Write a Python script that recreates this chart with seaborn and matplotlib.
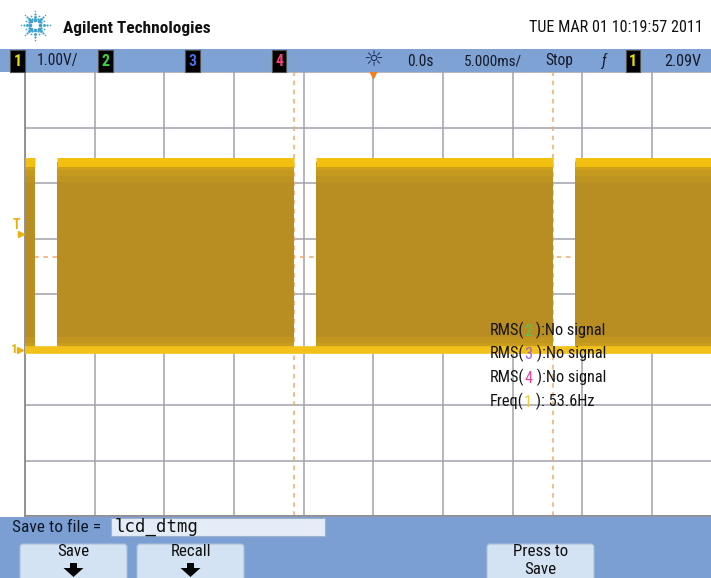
import numpy as np
import pandas as pd
import matplotlib
matplotlib.use("Agg")
import matplotlib.pyplot as plt
import seaborn as sns
from matplotlib import transforms
from matplotlib.patches import Rectangle, FancyBboxPatch, Polygon

ms_per_div = 5.0
volts_per_div = 1.0
t_range = [-25.0, 24.23]          # visible time window (ms)
v_range = [-3.0, 5.0]             # screen voltage window (V)
pulse_start = [-25.0, -22.70, -4.12, 14.47]
pulse_end = [-24.28, -5.69, 12.89, 24.23]
level_high = 3.37
level_low = 0.0
cursor_times = [-5.69, 12.89]
cursor_level = 1.66
trigger_level = 2.09
trigger_time = 0.0

meas_prefix = ["RMS(", "RMS(", "RMS(", "Freq("]
meas_channel = ["2", "3", "4", "1"]
meas_suffix = [" ):No signal", " ):No signal", " ):No signal", " ): 53.6Hz"]

header_title = "Agilent Technologies"
header_date = "TUE MAR 01 10:19:57 2011"
status_labels = ["1.00V/", "0.0s", "5.000ms/", "Stop", "ƒ", "2.09V"]
channel_boxes = ["1", "2", "3", "4", "1"]
save_label = "Save to file ="
file_name = "lcd_dtmg"
softkeys = ["Save", "Recall", "Press to\nSave"]

# ---------------- style ----------------
sns.set_theme(style="white")
NARROW = ["Liberation Sans Narrow", "Roboto Condensed", "Open Sans Condensed",
          "Liberation Sans", "DejaVu Sans"]
plt.rcParams["font.family"] = NARROW

W, H = 711, 578
fig = plt.figure(figsize=(W / 100, H / 100), dpi=100, facecolor="white")

# ---------------- graticule / waveform ----------------
ax = fig.add_axes([25 / W, (H - 516) / H, 686 / W, 444 / H], zorder=2)
ax.set_facecolor("white")
ax.set_xlim(t_range)
ax.set_ylim(v_range)
ax.set_xticks(np.arange(t_range[0], t_range[1], ms_per_div))
ax.set_yticks(np.arange(v_range[0], v_range[1] + 0.5, volts_per_div))
ax.tick_params(length=0, labelbottom=False, labelleft=False)
ax.grid(True, color="#A2A2AC", lw=1.1)
ax.set_axisbelow(True)
for side in ["top", "right"]:
    ax.spines[side].set_visible(False)
for side in ["left", "bottom"]:
    ax.spines[side].set_color("#8A8A94")
    ax.spines[side].set_linewidth(1.3)

cursor_style = dict(color="#F2A86A", lw=1.1, ls=(0, (3, 3)), zorder=1)
for t in cursor_times:
    ax.axvline(t, **cursor_style)
ax.axhline(cursor_level, **cursor_style)

gold = "#B88E22"
mid = "#DAAA18"
bright = "#F4C010"
for s, e in zip(pulse_start, pulse_end):
    ax.fill_between([s, e], level_low, level_high, color=gold, lw=0, zorder=3)
    for lo, hi, al in [(0.05, 0.14, 0.65), (0.14, 0.24, 0.4), (0.24, 0.36, 0.2)]:
        ax.fill_between([s, e], level_high - hi, level_high - lo, color=mid,
                        lw=0, alpha=al, zorder=3.1)
    for lo, hi, al in [(0.05, 0.12, 0.55), (0.12, 0.22, 0.3)]:
        ax.fill_between([s, e], level_low + lo, level_low + hi, color=mid,
                        lw=0, alpha=al, zorder=3.1)

high_df = pd.DataFrame({
    "t": pulse_start + pulse_end,
    "v": [level_high] * (2 * len(pulse_start)),
    "pulse": list(range(len(pulse_start))) * 2,
})
sns.lineplot(data=high_df, x="t", y="v", units="pulse", estimator=None,
             color=bright, lw=6.5, ax=ax, zorder=4, legend=False,
             solid_capstyle="butt")
low_df = pd.DataFrame({"t": t_range, "v": [level_low] * 2})
sns.lineplot(data=low_df, x="t", y="v", estimator=None, color="#F2C21A",
             lw=5.5, ax=ax, zorder=4, legend=False, solid_capstyle="butt")
ax.set_xlabel("")
ax.set_ylabel("")

# trigger position marker
ax.plot([trigger_time], [v_range[1]], marker="v", color="#F08020", ms=8,
        clip_on=False, zorder=1)

# ---------------- overlay in pixel coordinates ----------------
ov = fig.add_axes([0, 0, 1, 1], zorder=5)
ov.set_xlim(0, W)
ov.set_ylim(H, 0)
ov.axis("off")
ov.patch.set_alpha(0)

# logo (Agilent spark)
cx, cy = 35, 25
logo_c = "#3FA0CE"
a8 = np.deg2rad(np.arange(0, 360, 45))
a8b = a8 + np.deg2rad(22.5)
for r, sz in [(5.0, 7), (8.5, 4.5), (11.5, 2.5), (14.5, 1.2)]:
    ov.scatter(cx + r * np.cos(a8), cy + r * np.sin(a8), s=sz, color=logo_c, lw=0)
for r, sz in [(7.0, 3), (10.0, 1.5)]:
    ov.scatter(cx + r * np.cos(a8b), cy + r * np.sin(a8b), s=sz, color=logo_c, lw=0)

ov.text(63, 28, header_title, fontsize=12.4, fontweight="bold", va="center",
        color="#111111", family=NARROW)
ov.text(703, 28, header_date, fontsize=11.6, ha="right", va="center",
        color="#111111", family=NARROW)

# status bar
bar_c = "#7FA2D4"
ov.add_patch(Rectangle((0, 49), W, 23, fc=bar_c, ec="none"))
box_x = [17.5, 105.5, 192.5, 279, 633]
box_c = ["#E8E000", "#40D040", "#4A6AE8", "#F0407A", "#E8E000"]
for x, d, c in zip(box_x, channel_boxes, box_c):
    ov.text(x, 61, d, fontsize=11.5, fontweight="bold", color=c, ha="center",
            va="center", family=NARROW,
            bbox=dict(boxstyle="square,pad=0.2", fc="black", ec="#505050", lw=0.8))
status_x = [37, 407, 464, 545, 601, 701]
status_ha = ["left", "left", "left", "left", "left", "right"]
status_fs = [11.2, 11.2, 11.0, 11.2, 11.2, 11.6]
for x, s, ha, fs in zip(status_x, status_labels, status_ha, status_fs):
    ov.text(x, 61, s, fontsize=fs, ha=ha, va="center", color="#151a2a",
            family=NARROW, style="italic" if s == "ƒ" else "normal")
ov.text(373, 60, "☼", fontsize=16, ha="center", va="center", color="#1c2a5a",
        family=["DejaVu Sans"])

# channel / trigger markers on the left
tr = transforms.blended_transform_factory(ov.transData, ax.transData)
ov.text(16, trigger_level + 0.02, "T", transform=tr, color="#E8B010",
        fontsize=10, fontweight="bold", ha="center", va="bottom", family=NARROW)
ov.text(14, level_low, "1", transform=tr, color="#E8B010", fontsize=9.5,
        fontweight="bold", ha="center", va="center", family=NARROW)
ov.plot([21, 20], [trigger_level, level_low], ls="none", marker=">",
        color="#E8B010", ms=4.5, transform=tr, clip_on=False)

# measurements
meas_y = [330, 353, 377, 401]
digit_c = {"2": "#55C455", "3": "#A062C8", "4": "#E8449A", "1": "#F4CC3A"}
mfs = 11.8
for y, p, ch, sfx in zip(meas_y, meas_prefix, meas_channel, meas_suffix):
    t0 = ov.text(490, y, p, fontsize=mfs, va="center", color="#151515",
                 family=NARROW)
    t1 = ov.annotate(ch, xy=(1, 0), xycoords=t0, va="bottom", ha="left",
                     fontsize=mfs, color=digit_c[ch], family=NARROW)
    ov.annotate(sfx, xy=(1, 0), xycoords=t1, va="bottom", ha="left",
                fontsize=mfs, color="#151515", family=NARROW)

# bottom panel
ov.add_patch(Rectangle((0, 517), W, H - 517, fc="#7B9FD2", ec="none"))
ov.text(12, 527, save_label, fontsize=12.5, va="center", color="#101828",
        family=NARROW)
ov.add_patch(Rectangle((111, 518), 214, 18, fc="#E4ECF7", ec="#9FB2CC", lw=0.8))
ov.text(115, 527, file_name, fontsize=12.5, va="center", color="#101010",
        family=["DejaVu Sans Mono"])

key_x = [20, 137, 487]
key_w = 107
kfs = 12.2
for x, lab in zip(key_x, softkeys):
    ov.add_patch(FancyBboxPatch((x, 544), key_w, 40,
                                boxstyle="round,pad=0,rounding_size=3",
                                fc="#D4E3F3", ec="#A9BED8", lw=0.8))
    mx = x + key_w / 2
    if "\n" in lab:
        l1, l2 = lab.split("\n")
        ov.text(mx, 552, l1, fontsize=kfs, ha="center", va="center",
                color="#101010", family=NARROW)
        ov.text(mx, 569, l2, fontsize=kfs, ha="center", va="center",
                color="#101010", family=NARROW)
    else:
        ov.text(mx, 552, lab, fontsize=kfs, ha="center", va="center",
                color="#101010", family=NARROW)
        arrow = [(mx - 3.5, 563), (mx + 3.5, 563), (mx + 3.5, 568), (mx + 10, 568),
                 (mx, 577), (mx - 10, 568), (mx - 3.5, 568)]
        ov.add_patch(Polygon(arrow, closed=True, fc="#050505", ec="none"))

fig.savefig("out.png", dpi=100, facecolor="white")
